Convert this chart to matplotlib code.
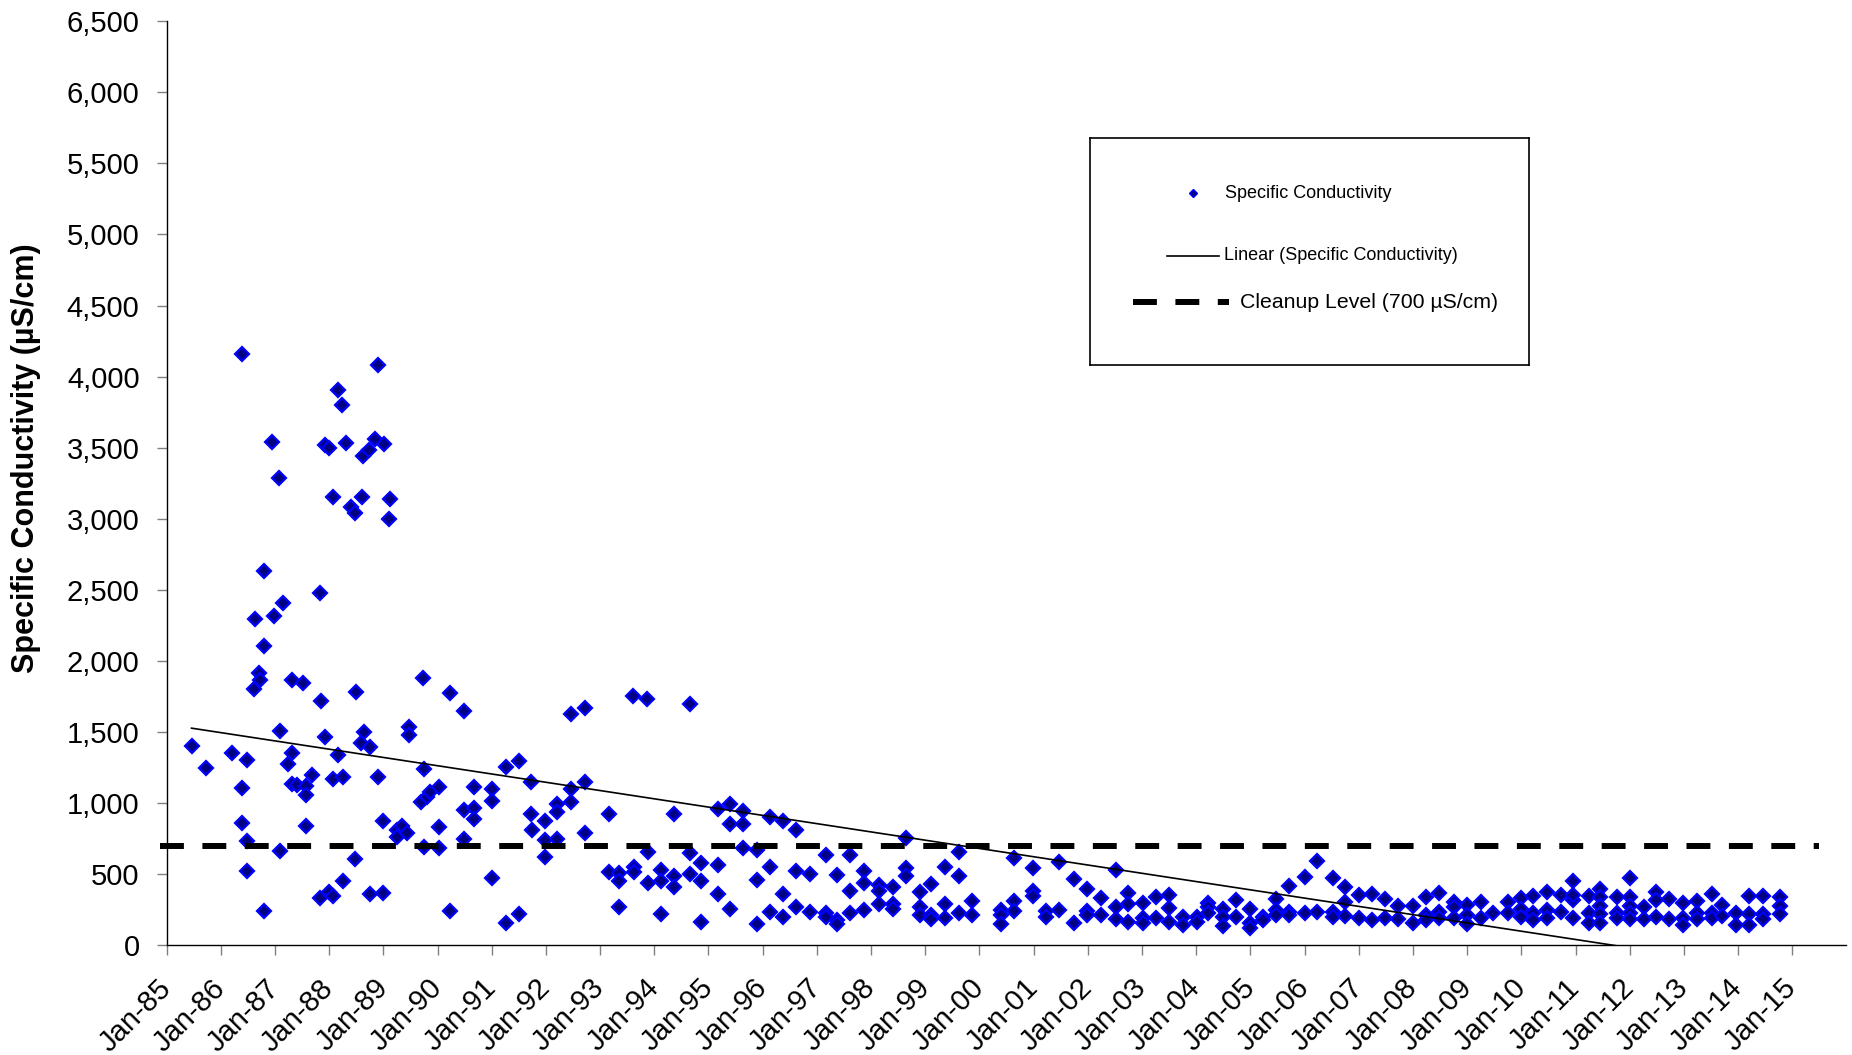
import datetime as dt

import matplotlib
matplotlib.use("Agg")
import matplotlib.pyplot as plt
import matplotlib.dates as mdates
import matplotlib.ticker as mticker
import numpy as np

plt.rcParams["font.family"] = ["Liberation Sans", "DejaVu Sans"]

# Sampling time (decimal year) and measured specific conductivity (uS/cm)
sample_year = [
    # 1985 - 1989, high-concentration period
    1986.40, 1986.95, 1987.08, 1987.92, 1988.00, 1988.17, 1988.24, 1988.32,
    1988.63, 1988.74, 1988.85, 1988.90, 1989.01, 1988.08, 1988.40, 1988.48,
    1988.60, 1989.13, 1989.10, 1986.80, 1987.84, 1987.15,
    1986.63, 1986.99, 1986.80, 1986.71, 1986.72, 1986.62, 1987.31, 1987.51,
    1987.85, 1988.49, 1989.74, 1990.23, 1990.48, 1992.47, 1992.73,
    1985.46, 1985.73, 1986.21, 1986.49, 1986.40, 1986.40, 1986.49, 1986.49,
    1986.80, 1987.09, 1987.09, 1987.31, 1987.25, 1987.31, 1987.40, 1987.58,
    1987.58, 1987.68, 1987.58, 1987.84, 1988.00, 1988.08, 1988.25, 1987.93,
    1988.07, 1988.25, 1988.17, 1988.64, 1988.58, 1988.75, 1988.48, 1988.75,
    1989.00, 1988.91, 1989.00, 1989.25, 1989.25, 1989.35, 1989.44, 1989.47,
    1989.47, 1989.75, 1989.69, 1989.80, 1989.87, 1990.02, 1989.75, 1990.02,
    1990.02, 1990.23, 1990.48, 1990.48, 1990.68, 1990.68, 1990.68, 1991.01,
    1991.01, 1991.01, 1991.26, 1991.51, 1991.26, 1991.51, 1991.72, 1991.72,
    1991.74, 1991.99, 1991.99, 1991.99, 1992.21, 1992.21, 1992.21, 1992.47,
    1992.47, 1992.73, 1992.73,
    # 1993 - 2000
    1993.61, 1993.87, 1994.66, 1993.16, 1994.37, 1993.17, 1993.35, 1993.35,
    1993.62, 1993.62, 1993.35, 1993.88, 1993.88, 1994.13, 1994.13, 1994.13,
    1994.37, 1994.37, 1994.66, 1994.66, 1994.86, 1994.86, 1994.86, 1995.17,
    1995.40, 1995.64, 1995.40, 1995.64, 1995.17, 1995.17, 1995.40, 1995.64,
    1995.89, 1995.89, 1995.89, 1996.14, 1996.38, 1996.14, 1996.14, 1996.38,
    1996.38, 1996.61, 1996.61, 1996.61, 1996.87, 1996.87, 1997.17, 1997.17,
    1997.17, 1997.38, 1997.38, 1997.38, 1997.62, 1997.62, 1997.62, 1997.87,
    1997.87, 1997.87, 1998.14, 1998.14, 1998.14, 1998.41, 1998.41, 1998.41,
    1998.64, 1998.64, 1998.64, 1998.90, 1998.90, 1998.90, 1999.10, 1999.10,
    1999.10, 1999.37, 1999.37, 1999.37, 1999.63, 1999.63, 1999.63, 1999.87,
    1999.87, 2000.39, 2000.39, 2000.39, 2000.64, 2000.64, 2000.64,
    # 2001 - 2008
    2000.98, 2000.98, 2000.98, 2001.23, 2001.23, 2001.46, 2001.46, 2001.75,
    2001.75, 2001.98, 2001.98, 2001.98, 2002.24, 2002.24, 2002.52, 2002.52,
    2002.52, 2002.74, 2002.74, 2002.74, 2003.02, 2003.02, 2003.02, 2003.25,
    2003.25, 2003.50, 2003.50, 2003.50, 2003.76, 2003.76, 2004.01, 2004.01,
    2004.22, 2004.22, 2004.22, 2004.50, 2004.50, 2004.50, 2004.74, 2004.74,
    2005.00, 2005.00, 2005.00, 2005.23, 2005.23, 2005.48, 2005.48, 2005.48,
    2005.71, 2005.71, 2005.71, 2006.00, 2006.00, 2006.22, 2006.22, 2006.53,
    2006.53, 2006.53, 2006.75, 2006.75, 2006.75, 2007.00, 2007.00, 2007.25,
    2007.25, 2007.49, 2007.49, 2007.73, 2007.73, 2008.00, 2008.00, 2008.24,
    2008.24, 2008.24, 2008.48, 2008.48, 2008.48,
    # 2008 - 2015
    2008.75, 2008.75, 2008.75, 2009.00, 2009.00, 2009.00, 2009.25, 2009.25,
    2009.48, 2009.75, 2009.75, 2010.00, 2010.00, 2010.00, 2010.22, 2010.22,
    2010.22, 2010.47, 2010.47, 2010.47, 2010.74, 2010.74, 2010.95, 2010.95,
    2010.95, 2010.95, 2011.25, 2011.25, 2011.25, 2011.45, 2011.45, 2011.45,
    2011.45, 2011.45, 2011.77, 2011.77, 2011.77, 2012.01, 2012.01, 2012.01,
    2012.01, 2012.01, 2012.26, 2012.26, 2012.48, 2012.48, 2012.48, 2012.72,
    2012.72, 2012.98, 2012.98, 2012.98, 2013.24, 2013.24, 2013.24, 2013.51,
    2013.51, 2013.51, 2013.71, 2013.71, 2013.96, 2013.96, 2014.20, 2014.20,
    2014.20, 2014.46, 2014.46, 2014.46, 2014.77, 2014.77, 2014.77,
]

conductivity = [
    4160, 3540, 3285, 3515, 3500, 3905, 3800, 3535,
    3440, 3480, 3560, 4080, 3525, 3155, 3085, 3040,
    3155, 3140, 2995, 2635, 2480, 2410,
    2292, 2315, 2104, 1912, 1865, 1799, 1865, 1841,
    1717, 1780, 1877, 1771, 1647, 1623, 1670,
    1403, 1243, 1351, 1300, 1107, 856, 734, 523,
    241, 1506, 664, 1349, 1274, 1131, 1126, 1121,
    1056, 1196, 840, 333, 373, 347, 453, 1461,
    1168, 1185, 1337, 1497, 1419, 1391, 603, 359,
    364, 1185, 873, 809, 758, 837, 786, 1532,
    1478, 1236, 1008, 1044, 1079, 1112, 687, 828,
    680, 239, 950, 744, 1110, 962, 886, 1095,
    1013, 474, 157, 218, 1255, 1297, 1145, 920,
    809, 873, 739, 622, 992, 938, 744, 1095,
    1008, 1145, 786,
    1752, 1731, 1694, 920, 920, 516, 505, 450,
    547, 516, 270, 657, 434, 528, 453, 218,
    488, 410, 645, 500, 575, 453, 162, 957,
    990, 943, 849, 849, 563, 359, 256, 680,
    669, 457, 146, 903, 873, 547, 230, 359,
    199, 809, 521, 265, 500, 235, 633, 228,
    199, 493, 176, 148, 633, 382, 228, 523,
    434, 246, 422, 382, 288, 406, 288, 256,
    751, 540, 486, 375, 265, 211, 429, 211,
    183, 551, 288, 192, 652, 486, 228, 312,
    211, 246, 211, 148, 610, 312, 241,
    540, 382, 345, 241, 199, 582, 246, 465,
    157, 392, 241, 211, 333, 211, 528, 265,
    181, 368, 288, 164, 293, 188, 153, 336,
    192, 352, 258, 164, 195, 141, 195, 164,
    298, 265, 223, 253, 195, 134, 317, 195,
    251, 153, 118, 199, 176, 322, 246, 211,
    417, 235, 211, 481, 223, 593, 230, 469,
    235, 199, 406, 305, 204, 352, 192, 359,
    176, 322, 188, 274, 181, 274, 157, 336,
    211, 176, 368, 235, 188,
    305, 265, 192, 281, 211, 148, 305, 188,
    223, 305, 223, 329, 251, 199, 345, 223,
    176, 375, 246, 188, 352, 230, 453, 317,
    192, 352, 345, 223, 153, 392, 336, 274,
    218, 157, 336, 223, 188, 469, 336, 274,
    223, 181, 265, 181, 375, 317, 199, 322,
    181, 298, 192, 141, 312, 223, 181, 359,
    223, 192, 281, 204, 223, 141, 345, 218,
    141, 345, 218, 181, 336, 274, 218,
]

cleanup_level = 700
cleanup_span = ["1984-11-15", "2015-07-01"]

y_ticks = list(range(0, 7000, 500))
x_tick_years = list(range(1985, 2016))


def year_to_date(y):
    base = dt.datetime(int(y), 1, 1)
    nxt = dt.datetime(int(y) + 1, 1, 1)
    return base + (nxt - base) * (y - int(y))


dates = [year_to_date(y) for y in sample_year]

NAVY = "#000080"
BLUE = "#0000FF"
DASH = (0, (4, 3.1))

W, H = 1852, 1055
fig = plt.figure(figsize=(W / 100, H / 100), dpi=100)
ax = fig.add_axes([166.6 / W, 1 - 945 / H, (1846 - 166.6) / W, (945 - 21.3) / H])

# measurements
ax.plot(dates, conductivity, linestyle="none", marker="D", markersize=7.2,
        markerfacecolor=NAVY, markeredgecolor=BLUE, markeredgewidth=1.6,
        zorder=3)

# least-squares linear trend over the sampling record
slope, intercept = np.polyfit(sample_year, conductivity, 1)
trend_years = np.array([min(sample_year), max(sample_year)])
ax.plot([year_to_date(y) for y in trend_years], slope * trend_years + intercept,
        color="black", linewidth=1.2, zorder=4)

# cleanup level
ax.plot([dt.datetime.fromisoformat(d) for d in cleanup_span],
        [cleanup_level, cleanup_level], color="black", linewidth=4.3,
        linestyle=DASH, dash_capstyle="butt", zorder=5, clip_on=False)

ax.set_ylim(0, 6500)
ax.set_xlim(dt.datetime(1985, 1, 1), dt.datetime(2015, 12, 29))
ax.set_yticks(y_ticks)
ax.yaxis.set_major_formatter(mticker.StrMethodFormatter("{x:,.0f}"))
ax.set_xticks([dt.datetime(y, 1, 1) for y in x_tick_years])
ax.xaxis.set_major_formatter(mdates.DateFormatter("%b-%y"))

for side in ("top", "right"):
    ax.spines[side].set_visible(False)
for side in ("left", "bottom"):
    ax.spines[side].set_linewidth(1.0)
    ax.spines[side].set_color("black")

ax.tick_params(axis="both", direction="out", length=7, width=1,
               color="#808080", labelsize=21, labelcolor="black")
ax.tick_params(axis="y", pad=12.5)
ax.tick_params(axis="x", pad=21)
for lbl in ax.get_xticklabels():
    lbl.set_rotation(45)
    lbl.set_ha("right")
    lbl.set_va("center")
    lbl.set_rotation_mode("anchor")

fig.text(26 / W, 1 - 458 / H, "Specific Conductivity (µS/cm)", rotation=90,
         ha="center", va="center", fontsize=22, fontweight="bold")

# legend box
lx0, lx1, ly0, ly1 = 1090, 1529, 138, 365
lax = fig.add_axes([lx0 / W, 1 - ly1 / H, (lx1 - lx0) / W, (ly1 - ly0) / H])
lax.set_xlim(lx0, lx1)
lax.set_ylim(ly1, ly0)
lax.set_xticks([])
lax.set_yticks([])
for sp in lax.spines.values():
    sp.set_linewidth(1.2)
    sp.set_color("black")

lax.plot([1193], [193], linestyle="none", marker="D", markersize=4.5,
         markerfacecolor=NAVY, markeredgecolor=BLUE, markeredgewidth=1.0)
lax.text(1225, 193, "Specific Conductivity", va="center", ha="left", fontsize=13)
lax.plot([1167, 1219], [256, 256], color="black", linewidth=1.2)
lax.text(1224, 256, "Linear (Specific Conductivity)", va="center", ha="left",
         fontsize=13)
lax.plot([1133, 1229], [302, 302], color="black", linewidth=4.3,
         linestyle=DASH, dash_capstyle="butt")
lax.text(1240, 302, "Cleanup Level (700 µS/cm)", va="center", ha="left",
         fontsize=15.3)

fig.savefig("out.png", dpi=100)
